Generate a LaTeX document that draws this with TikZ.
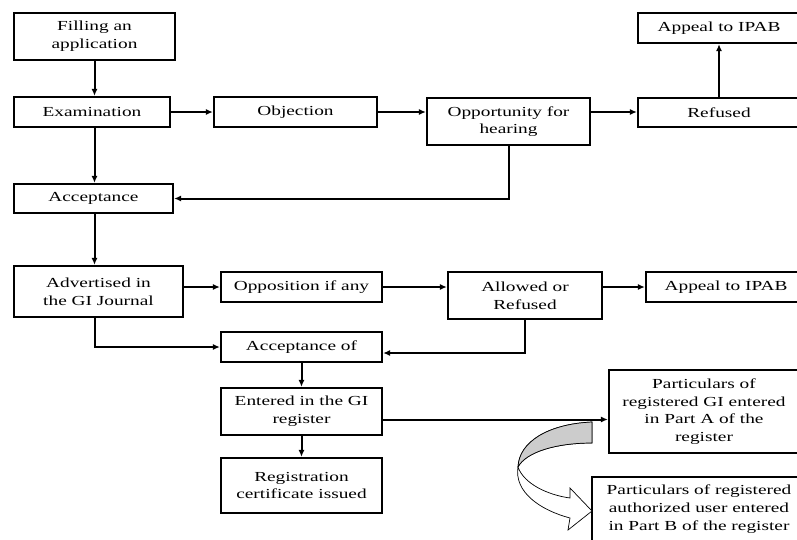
\documentclass[tikz,border=0pt]{standalone}
\usepackage{fontspec}
\setmainfont[FakeStretch=1.4]{Liberation Serif}
\usetikzlibrary{arrows.meta}

\begin{document}
\begin{tikzpicture}[x=1pt,y=-1pt,
    box/.style={draw, line width=2.2pt, align=center, inner sep=2pt,
        font=\fontsize{13.8}{17.7}\selectfont},
    arr/.style={line width=2pt, -{Latex[length=7pt,width=6pt]}}]
    \useasboundingbox (0,0) rectangle (797,539);
    \clip (0,0) rectangle (797,539);
    % application and examination
    \node[box, minimum width=161, minimum height=47] (fill) at (94.5,36.5) {Filling an\\application};
    \node[box, minimum width=156, minimum height=30] (exam) at (92,112) {Examination};
    \node[box, minimum width=163, minimum height=30] (obj) at (295.5,112) {Objection};
    \node[box, minimum width=163, minimum height=47] (hear) at (508.5,121.5) {Opportunity for\\hearing};
    \node[box, minimum width=162, minimum height=29] (ref) at (719,112.5) {Refused};
    \node[box, minimum width=162, minimum height=30] (ipabA) at (719,28) {Appeal to IPAB};
    \node[box, minimum width=159, minimum height=29] (acc) at (93.5,198.5) {Acceptance};
    % advertisement and opposition
    \node[box, minimum width=169, minimum height=51] (adv) at (98.5,291.5) {Advertised in\\the GI Journal};
    \node[box, minimum width=161, minimum height=30] (opp) at (301.5,287) {Opposition if any};
    \node[box, minimum width=154, minimum height=47] (allow) at (525,295.5) {Allowed or\\Refused};
    \node[box, minimum width=160, minimum height=30] (ipabB) at (726,287) {Appeal to IPAB};
    \node[box, minimum width=161, minimum height=30] (accof) at (301.5,347) {Acceptance of};
    % registration
    \node[box, minimum width=161, minimum height=47] (gireg) at (301.5,411.5) {Entered in the GI\\register};
    \node[box, minimum width=161, minimum height=55] (cert) at (301.5,485.5) {Registration\\certificate issued};
    \node[box, minimum width=190, minimum height=83] (partA) at (704,411.5) {Particulars of\\registered GI entered\\in Part A of the\\register};
    \node[box, minimum width=214, minimum height=64] (partB) at (699,509) {Particulars of registered\\authorized user entered\\in Part B of the register};

    \draw[arr] (fill.south) -- (fill.south |- exam.north);
    \draw[arr] (exam.east) -- (obj.west);
    \draw[arr] (obj.east) -- (obj.east -| hear.west);
    \draw[arr] (hear.east |- obj.east) -- (ref.west |- obj.east);
    \draw[arr] (ref.north) -- (ipabA.south);
    \draw[arr] (exam.south -| fill.south) -- (acc.north -| fill.south);
    \draw[arr] (hear.south) |- (acc.east);
    \draw[arr] (acc.south -| fill.south) -- (adv.north -| fill.south);
    \draw[arr] (adv.east |- opp.west) -- (opp.west);
    \draw[arr] (opp.east) -- (opp.east -| allow.west);
    \draw[arr] (allow.east |- ipabB.west) -- (ipabB.west);
    \draw[arr] (adv.south -| fill.south) |- (accof.west);
    \draw[arr] (allow.south) |- ([yshift=-6pt]accof.east);
    \draw[arr] (accof.south) -- (gireg.north);
    \draw[arr] (gireg.south) -- (cert.north);
    \draw[arr] ([yshift=-8pt]gireg.east) -- ([yshift=-8pt]gireg.east -| partA.west);

    % curved block arrow from part A to part B
    \draw[line width=0.7pt, fill=white] (592,422) .. controls (548,424) and (519,442) .. (518,467)
        .. controls (514,492) and (540,510) .. (570,518) -- (568,530) -- (592,511) -- (570,488) -- (570,498)
        .. controls (548,495) and (524,484) .. (518,467)
        .. controls (526,452) and (556,443) .. (592,443) -- cycle;
    \fill[gray!40, draw=black, line width=0.7pt] (592,422) .. controls (548,424) and (519,442) .. (518,467)
        .. controls (526,452) and (556,443) .. (592,443) -- cycle;
\end{tikzpicture}
\end{document}
